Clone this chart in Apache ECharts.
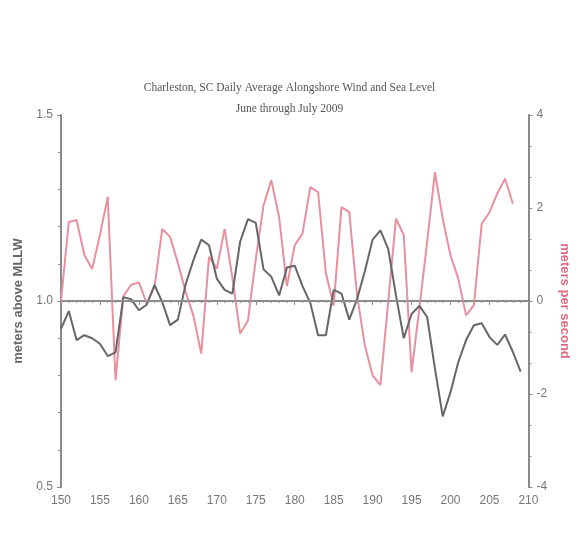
<!DOCTYPE html>
<html>
<head>
<meta charset="utf-8">
<script src="https://cdn.jsdelivr.net/npm/echarts@6/dist/echarts.min.js"></script>
<style>
  html, body { margin: 0; padding: 0; background: #fff; }
  #chart { width: 579px; height: 541px; }
</style>
</head>
<body>
<div id="chart"></div>
<script>
// Day of year, June through July 2009
const days = [];
for (let d = 150; d <= 209; d++) days.push(d);

// Daily mean sea level (meters above MLLW)
const seaLevel = [
  0.925, 0.973, 0.895, 0.908, 0.900, 0.885, 0.852, 0.862, 1.010, 1.005,
  0.975, 0.990, 1.043, 0.997, 0.935, 0.950, 1.045, 1.110, 1.165, 1.150,
  1.060, 1.030, 1.020, 1.160, 1.220, 1.210, 1.085, 1.065, 1.015, 1.090,
  1.095, 1.040, 0.995, 0.908, 0.908, 1.030, 1.020, 0.950, 1.005, 1.080,
  1.165, 1.190, 1.140, 1.015, 0.900, 0.965, 0.987, 0.957, 0.818, 0.690,
  0.755, 0.836, 0.895, 0.935, 0.940, 0.903, 0.882, 0.910, 0.863, 0.810
];

// Daily mean alongshore wind (meters per second)
const wind = [
  0.00, 1.70, 1.74, 0.99, 0.69, 1.42, 2.24, -1.70, 0.10, 0.35,
  0.40, -0.05, 0.30, 1.55, 1.38, 0.82, 0.20, -0.32, -1.13, 0.95,
  0.69, 1.55, 0.50, -0.70, -0.42, 0.90, 2.06, 2.60, 1.80, 0.32,
  1.20, 1.45, 2.45, 2.34, 0.60, -0.10, 2.02, 1.91, 0.13, -0.95,
  -1.60, -1.81, -0.02, 1.77, 1.42, -1.53, -0.16, 1.27, 2.77, 1.77,
  0.98, 0.48, -0.31, -0.09, 1.66, 1.91, 2.31, 2.63, 2.09, null
];

const titleLines = ['Charleston, SC Daily Average Alongshore Wind and Sea Level', 'June through July 2009'];
const leftName = 'meters above MLLW';
const rightName = 'meters per second';

const axisGray = '#8a8a8a';
const labelGray = '#777';
const labelFont = { color: labelGray, fontSize: 12, fontFamily: 'Liberation Sans', margin: 8 };

const chart = echarts.init(document.getElementById('chart'));
chart.setOption({
  backgroundColor: '#fff',
  animation: false,
  title: {
    text: titleLines[0],
    subtext: titleLines[1],
    left: 'center',
    top: 77,
    itemGap: 9,
    textStyle: { fontFamily: 'Liberation Serif', fontSize: 11.5, fontWeight: 'normal', color: '#555' },
    subtextStyle: { fontFamily: 'Liberation Serif', fontSize: 11.5, color: '#555' }
  },
  grid: { left: 61, right: 49, top: 115, bottom: 54 },
  xAxis: {
    type: 'value', min: 150, max: 210, interval: 5,
    axisLine: { show: true, lineStyle: { color: '#666', width: 2 } },
    axisTick: { show: true, length: 4, lineStyle: { color: axisGray } },
    minorTick: { show: true, splitNumber: 5, length: 2, lineStyle: { color: axisGray } },
    splitLine: { show: false },
    axisLabel: labelFont
  },
  yAxis: [
    {
      type: 'value', min: 0.5, max: 1.5, interval: 0.5, position: 'left',
      name: leftName, nameLocation: 'middle', nameGap: 34, nameRotate: 90,
      nameTextStyle: { color: '#666', fontSize: 13, fontWeight: 'bold', fontFamily: 'Liberation Sans' },
      axisLine: { show: true, lineStyle: { color: axisGray, width: 2 } },
      axisTick: { show: true, length: 4, lineStyle: { color: axisGray } },
      minorTick: { show: true, splitNumber: 5, length: 3, lineStyle: { color: axisGray } },
      splitLine: { show: false },
      axisLabel: Object.assign({}, labelFont, { formatter: v => v.toFixed(1) })
    },
    {
      type: 'value', min: -4, max: 4, interval: 2, position: 'right',
      name: rightName, nameLocation: 'middle', nameGap: 24, nameRotate: -90,
      nameTextStyle: { color: '#e06b80', fontSize: 13, fontWeight: 'bold', fontFamily: 'Liberation Sans' },
      axisLine: { show: true, lineStyle: { color: axisGray, width: 2 } },
      axisTick: { show: true, length: 4, lineStyle: { color: axisGray } },
      minorTick: { show: true, splitNumber: 3, length: 3, lineStyle: { color: axisGray } },
      splitLine: { show: false },
      axisLabel: labelFont
    }
  ],
  series: [
    {
      name: 'wind', type: 'line', yAxisIndex: 1,
      data: days.map((d, i) => [d, wind[i]]),
      showSymbol: false, connectNulls: false,
      lineStyle: { color: '#e9909e', width: 2 },
      z: 2,
      markLine: {
        silent: true, symbol: 'none', label: { show: false },
        lineStyle: { color: '#999', width: 1.5, type: 'solid' },
        data: [{ yAxis: 0 }]
      }
    },
    {
      name: 'sea level', type: 'line', yAxisIndex: 0,
      data: days.map((d, i) => [d, seaLevel[i]]),
      showSymbol: false,
      lineStyle: { color: '#666', width: 2 },
      z: 3
    }
  ]
});
</script>
</body>
</html>
